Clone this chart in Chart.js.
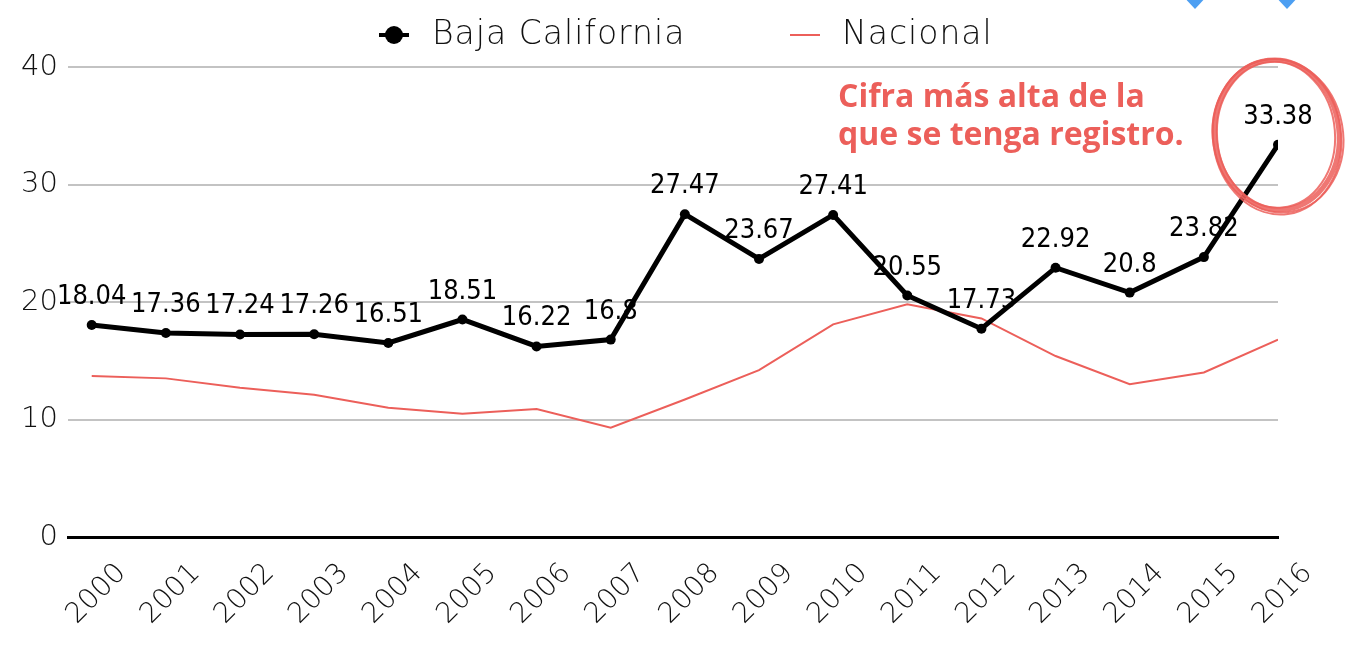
<!DOCTYPE html>
<html>
<head>
<meta charset="utf-8">
<script src="https://cdn.jsdelivr.net/npm/chart.js@4.4.0/dist/chart.umd.min.js"></script>
<style>
  html, body { margin: 0; padding: 0; background: #fff; overflow: hidden; }
</style>
</head>
<body>
<canvas id="grafico" width="1358" height="649"></canvas>
<script>
const anios = ['2000', '2001', '2002', '2003', '2004', '2005', '2006', '2007', '2008',
               '2009', '2010', '2011', '2012', '2013', '2014', '2015', '2016'];
const bajaCalifornia = [18.04, 17.36, 17.24, 17.26, 16.51, 18.51, 16.22, 16.8, 27.47,
                        23.67, 27.41, 20.55, 17.73, 22.92, 20.8, 23.82, 33.38];
const nacional = [13.7, 13.5, 12.7, 12.1, 11.0, 10.5, 10.9, 9.3, 11.7,
                  14.2, 18.1, 19.8, 18.6, 15.4, 13.0, 14.0, 16.8];
const ticksY = [0, 10, 20, 30, 40];
const nota = ['Cifra más alta de la', 'que se tenga registro.'];

const rojo = '#ec5f5a';
const fuenteLigera = '"DejaVu Sans", Lato, sans-serif';

const extras = {
    id: 'extras',
    afterDatasetsDraw(chart) {
        const c = chart.ctx;
        const meta = chart.getDatasetMeta(0);
        c.save();
        c.font = '27px "DejaVu Sans Condensed", "Liberation Sans Narrow", sans-serif';
        c.fillStyle = '#000';
        c.textAlign = 'center';
        c.textBaseline = 'middle';
        meta.data.forEach((p, i) => {
            c.fillText(String(bajaCalifornia[i]), p.x, p.y - 28);
        });
        c.restore();
    },
    afterDraw(chart) {
        const c = chart.ctx;
        c.save();

        // leyenda
        const ds = chart.data.datasets;
        c.font = '200 33px ' + fuenteLigera;
        c.letterSpacing = '1px';
        c.textBaseline = 'middle';
        c.strokeStyle = '#000';
        c.lineWidth = 4;
        c.beginPath(); c.moveTo(379, 35); c.lineTo(409, 35); c.stroke();
        c.beginPath(); c.arc(394, 35, 9, 0, Math.PI * 2); c.fillStyle = '#000'; c.fill();
        c.fillStyle = '#111';
        c.fillText(ds[0].label, 432, 35);
        c.strokeStyle = rojo;
        c.lineWidth = 2;
        c.beginPath(); c.moveTo(790, 35); c.lineTo(820, 35); c.stroke();
        c.fillText(ds[1].label, 842, 35);
        c.letterSpacing = '0px';

        // nota
        c.font = '700 32px "Open Sans", sans-serif';
        c.fillStyle = rojo;
        c.textBaseline = 'alphabetic';
        c.fillText(nota[0], 838, 107);
        c.fillText(nota[1], 838, 145);

        // circulo alrededor del ultimo punto
        const ult = chart.getDatasetMeta(0).data[anios.length - 1];
        const cx = ult.x - 1, cy = ult.y - 10;
        c.strokeStyle = rojo;
        c.globalAlpha = 0.85;
        c.lineWidth = 5;
        c.beginPath(); c.ellipse(cx, cy, 62, 75, -0.12, 0, Math.PI * 2); c.stroke();
        c.lineWidth = 2;
        [[1, 1, 65, 77, -0.18], [-1, 0, 59, 73, -0.08], [0, 2, 64, 78, -0.14]].forEach(e => {
            c.beginPath(); c.ellipse(cx + e[0], cy + e[1], e[2], e[3], e[4], 0, Math.PI * 2); c.stroke();
        });
        c.globalAlpha = 1;

        // iconos azules cortados arriba
        c.fillStyle = '#4d9ff2';
        [1195, 1287].forEach(x => {
            c.beginPath();
            c.moveTo(x - 14, -6);
            c.lineTo(x + 14, -6);
            c.lineTo(x, 9);
            c.closePath();
            c.fill();
        });
        c.restore();
    }
};

new Chart(document.getElementById('grafico'), {
    type: 'line',
    data: {
        datasets: [{
            label: 'Baja California',
            data: anios.map((a, i) => ({ x: i, y: bajaCalifornia[i] })),
            borderColor: '#000',
            backgroundColor: '#000',
            borderWidth: 5,
            pointRadius: 5,
            pointBorderWidth: 0,
            tension: 0
        }, {
            label: 'Nacional',
            data: anios.map((a, i) => ({ x: i, y: nacional[i] })),
            borderColor: rojo,
            backgroundColor: rojo,
            borderWidth: 2,
            pointRadius: 0,
            tension: 0
        }]
    },
    options: {
        responsive: false,
        animation: false,
        layout: { padding: { top: 67, right: 80, left: 0, bottom: 0 } },
        plugins: {
            legend: { display: false },
            tooltip: { enabled: false }
        },
        scales: {
            x: {
                type: 'linear',
                min: -0.32,
                max: anios.length - 1,
                afterBuildTicks: (s) => { s.ticks = anios.map((a, i) => ({ value: i })); },
                afterFit: (s) => { s.height = 112; },
                grid: { display: false },
                border: { display: true, color: '#000', width: 3 },
                ticks: {
                    autoSkip: false,
                    minRotation: 45,
                    maxRotation: 45,
                    labelOffset: 30,
                    padding: 12,
                    color: '#111',
                    font: { family: fuenteLigera, size: 28, weight: '200' },
                    callback: (v) => anios[v]
                }
            },
            y: {
                min: ticksY[0],
                max: ticksY[ticksY.length - 1],
                afterBuildTicks: (s) => { s.ticks = ticksY.map(v => ({ value: v })); },
                afterFit: (s) => { s.width = 68; },
                border: { display: false },
                grid: {
                    drawTicks: false,
                    color: (ctx) => ctx.tick && ctx.tick.value === 0 ? 'rgba(0,0,0,0)' : '#c3c3c3',
                    lineWidth: 2
                },
                ticks: {
                    padding: 10,
                    color: '#111',
                    font: { family: fuenteLigera, size: 29, weight: '200' }
                }
            }
        }
    },
    plugins: [extras]
});
</script>
</body>
</html>
